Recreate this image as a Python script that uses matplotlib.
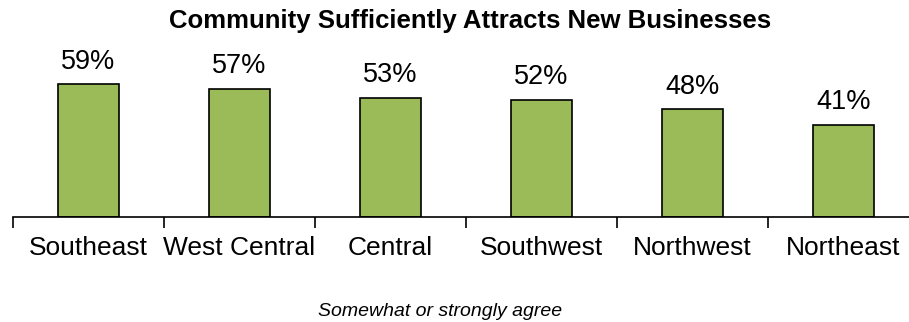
import matplotlib
matplotlib.use("Agg")
import matplotlib.pyplot as plt
import numpy as np

regions = ["Southeast", "West Central", "Central", "Southwest", "Northwest", "Northeast"]
agree_pct = [59, 57, 53, 52, 48, 41]

plt.rcParams['font.family'] = ['Liberation Sans', 'DejaVu Sans']

fig = plt.figure(figsize=(9.09, 3.22), dpi=100)
ax = fig.add_axes([13 / 909, 105 / 322, 906 / 909, 177 / 322])

x = np.arange(len(regions))
ax.bar(x, agree_pct, width=0.4, color="#9BBB59", edgecolor="black", linewidth=1.2)
for xi, v in zip(x, agree_pct):
    ax.text(xi, v + 10, f"{v}%", ha="center", va="center", fontsize=19.5)

ax.set_xlim(-0.5, len(regions) - 0.5)
ax.set_ylim(0, 177 / 2.25)
ax.set_yticks([])
for s in ["top", "right", "left"]:
    ax.spines[s].set_visible(False)
ax.spines["bottom"].set_linewidth(1.2)

ax.set_xticks(x)
ax.set_xticklabels(regions, fontsize=19)
ax.tick_params(axis="x", which="major", length=0, pad=14)
ax.set_xticks(np.arange(-0.5, len(regions), 1.0), minor=True)
ax.tick_params(axis="x", which="minor", length=8, width=1.2, direction="out")

fig.text(470 / 909, 1 - 21 / 322, "Community Sufficiently Attracts New Businesses",
         ha="center", va="center", fontsize=18.5, fontweight="bold")
fig.text(440 / 909, 1 - 311 / 322, "Somewhat or strongly agree",
         ha="center", va="center", fontsize=14, style="italic")

fig.savefig("out.png", dpi=100)
